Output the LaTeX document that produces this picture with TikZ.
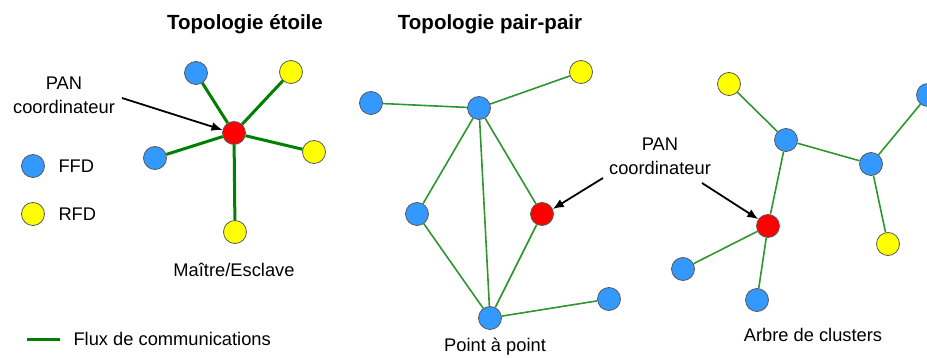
\documentclass[tikz,border=0pt]{standalone}
\usepackage{fontspec}
\setmainfont{Liberation Sans}
\usetikzlibrary{arrows,arrows.meta}

\definecolor{ffdblue}{RGB}{51,153,255}
\definecolor{rfdyellow}{RGB}{255,255,0}
\definecolor{panred}{RGB}{255,0,0}
\definecolor{fluxgreen}{RGB}{0,128,0}
\definecolor{liengreen}{RGB}{45,150,45}

\begin{document}
\begin{tikzpicture}
[x=1pt, y=-1pt,
ffd/.style ={circle, draw=black!65, fill=ffdblue, minimum size=23pt,
inner sep=0pt, line width=0.8pt},
rfd/.style ={ffd, fill=rfdyellow},
pan/.style ={ffd, fill=panred},
flux/.style ={draw=fluxgreen, line width=3pt},
lien/.style ={draw=liengreen, line width=1.6pt},
fleche/.style ={-{Latex[length=11pt,width=9pt]}, line width=1.8pt, black},
titre/.style ={font=\fontsize{20.5}{24}\selectfont\bfseries},
texte/.style ={font=\fontsize{18.3}{24}\selectfont, align=center}]

\useasboundingbox (0,0) rectangle (927,358);

% topologie etoile
\node (titreA) [titre] at (245,24) {Topologie étoile};
\node (panA) [pan] at (234,133) {};
\node (a1) [ffd] at (196,73) {};
\node (a2) [rfd] at (291,72) {};
\node (a3) [ffd] at (155,158) {};
\node (a4) [rfd] at (314,152) {};
\node (a5) [rfd] at (235,232) {};
\node (labelA) [texte] at (64,95) {PAN\\coordinateur};
\node (maitre) [texte] at (234,270) {Maître/Esclave};

\draw[flux] (panA) -- (a1);
\draw[flux] (panA) -- (a2);
\draw[flux] (panA) -- (a3);
\draw[flux] (panA) -- (a4);
\draw[flux] (panA) -- (a5);
\coordinate (flA) at (122,98);
\draw[fleche] (flA) -- (panA.165);

% legende
\node (legFFD) [ffd] at (33,166) {};
\node (txtFFD) [texte, anchor=west] at (55,166) {FFD};
\node (legRFD) [rfd] at (33,214) {};
\node (txtRFD) [texte, anchor=west] at (55,214) {RFD};
\coordinate (legA) at (27,339);
\coordinate (legB) at (60,339);
\draw[flux] (legA) -- (legB);
\node (txtFlux) [texte, anchor=west] at (70,339) {Flux de communications};

% topologie pair-pair
\node (titreB) [titre] at (490,24) {Topologie pair-pair};
\node (b1) [ffd] at (371,103) {};
\node (b2) [ffd] at (479,108) {};
\node (b3) [rfd] at (581,72) {};
\node (b4) [ffd] at (417,214) {};
\node (panB) [pan] at (542,214) {};
\node (b5) [ffd] at (490,318) {};
\node (b6) [ffd] at (609,299) {};
\node (pap) [texte] at (495,347) {Point à point};

\draw[lien] (b1) -- (b2);
\draw[lien] (b2) -- (b3);
\draw[lien] (b2) -- (b4);
\draw[lien] (b2) -- (b5);
\draw[lien] (b2) -- (panB);
\draw[lien] (b4) -- (b5);
\draw[lien] (panB) -- (b5);
\draw[lien] (b5) -- (b6);

\node (labelB) [texte] at (660,156) {PAN\\coordinateur};
\coordinate (flB) at (603,178);
\coordinate (flC) at (702,183);
\draw[fleche] (flB) -- (panB.25);

% arbre de clusters
\node (c1) [rfd] at (729,84) {};
\node (c2) [ffd] at (786,140) {};
\node (c3) [ffd] at (871,164) {};
\node (c4) [ffd] at (928,95) {};
\node (c5) [rfd] at (888,244) {};
\node (panC) [pan] at (768,226) {};
\node (c6) [ffd] at (683,269) {};
\node (c7) [ffd] at (757,300) {};
\node (arbre) [texte] at (813,335) {Arbre de clusters};

\draw[lien] (c1) -- (c2);
\draw[lien] (c2) -- (c3);
\draw[lien] (c3) -- (c4);
\draw[lien] (c3) -- (c5);
\draw[lien] (c2) -- (panC);
\draw[lien] (panC) -- (c6);
\draw[lien] (panC) -- (c7);
\draw[fleche] (flC) -- (panC.145);
\end{tikzpicture}
\end{document}
